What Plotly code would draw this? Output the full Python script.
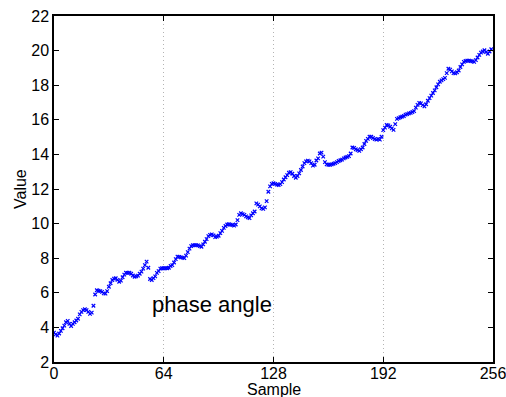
import plotly.graph_objects as go

samples = list(range(256))
values = [
    3.70, 3.60, 3.52, 3.65, 3.80, 3.95, 4.10, 4.30, 4.38, 4.20,
    4.08, 4.20, 4.30, 4.40, 4.50, 4.75, 4.90, 5.00, 5.05, 5.00,
    4.90, 4.78, 4.85, 5.25, 5.90, 6.15, 6.12, 6.10, 6.05, 5.97,
    5.95, 6.10, 6.35, 6.55, 6.74, 6.82, 6.84, 6.75, 6.64, 6.70,
    6.90, 7.05, 7.16, 7.15, 7.16, 7.10, 7.00, 6.93, 6.95, 6.99,
    7.10, 7.22, 7.40, 7.60, 7.80, 7.45, 6.80, 6.74, 6.85, 6.95,
    7.15, 7.25, 7.40, 7.42, 7.42, 7.42, 7.42, 7.45, 7.55, 7.60,
    7.75, 7.95, 8.09, 8.08, 8.05, 8.03, 8.00, 8.15, 8.35, 8.55,
    8.70, 8.75, 8.76, 8.76, 8.74, 8.70, 8.66, 8.80, 8.95, 9.10,
    9.28, 9.35, 9.38, 9.32, 9.22, 9.25, 9.30, 9.45, 9.58, 9.75,
    9.86, 9.95, 9.96, 9.94, 9.92, 9.88, 9.95, 10.20, 10.50, 10.60,
    10.55, 10.50, 10.42, 10.36, 10.32, 10.48, 10.60, 10.70, 11.17, 11.10,
    11.00, 10.88, 10.85, 10.94, 11.30, 11.84, 12.15, 12.30, 12.33, 12.30,
    12.25, 12.23, 12.28, 12.40, 12.55, 12.68, 12.80, 12.94, 12.98, 12.88,
    12.75, 12.65, 12.75, 12.90, 13.10, 13.30, 13.50, 13.60, 13.64, 13.60,
    13.50, 13.35, 13.40, 13.65, 13.77, 14.05, 14.10, 13.87, 13.55, 13.42,
    13.40, 13.39, 13.42, 13.46, 13.50, 13.55, 13.62, 13.66, 13.70, 13.77,
    13.82, 13.86, 13.90, 14.05, 14.40, 14.38, 14.30, 14.25, 14.20, 14.30,
    14.40, 14.60, 14.78, 14.90, 15.02, 15.02, 14.95, 14.88, 14.85, 14.90,
    14.85, 15.02, 15.40, 15.55, 15.70, 15.68, 15.60, 15.50, 15.42, 15.75,
    16.05, 16.10, 16.15, 16.18, 16.22, 16.30, 16.33, 16.37, 16.40, 16.45,
    16.50, 16.70, 16.86, 16.98, 16.95, 16.85, 16.78, 16.90, 17.10, 17.25,
    17.40, 17.55, 17.70, 17.88, 18.05, 18.20, 18.28, 18.35, 18.42, 18.70,
    18.95, 18.90, 18.80, 18.70, 18.68, 18.75, 18.85, 19.05, 19.20, 19.35,
    19.40, 19.42, 19.42, 19.40, 19.38, 19.35, 19.45, 19.60, 19.75, 19.88,
    19.95, 20.02, 19.92, 19.82, 19.95, 20.08,
]
x_ticks = [0, 64, 128, 192, 256]
y_ticks = [2, 4, 6, 8, 10, 12, 14, 16, 18, 20, 22]
label_text = "phase angle"
label_pos = (56, 5.3)
x_title = "Sample"
y_title = "Value"

FONT = "Liberation Sans, Arial, Helvetica, sans-serif"

fig = go.Figure()
fig.add_trace(go.Scatter(
    x=samples, y=values, mode="markers",
    marker=dict(symbol="x-thin", size=3.5, color="#0000ff",
                line=dict(color="#0000ff", width=1.2)),
    showlegend=False,
))

fig.add_annotation(x=label_pos[0], y=label_pos[1], text=label_text,
                   showarrow=False, xanchor="left", yanchor="middle",
                   font=dict(family=FONT, size=22, color="black"))

# axis titles
fig.add_annotation(x=0.5, y=0, xref="paper", yref="paper", yshift=-17,
                   text=x_title, showarrow=False, xanchor="center", yanchor="top",
                   font=dict(family=FONT, size=16, color="black"))
fig.add_annotation(x=0, y=0.5, xref="paper", yref="paper", xshift=-34,
                   text=y_title, showarrow=False, textangle=-90,
                   xanchor="center", yanchor="middle",
                   font=dict(family=FONT, size=16, color="black"))

axis_common = dict(
    showline=True, linecolor="black", linewidth=1.5, mirror="allticks",
    ticks="inside", ticklen=5, tickwidth=1, tickcolor="black",
    zeroline=False, automargin=False, ticklabeloverflow="allow",
    tickfont=dict(family=FONT, size=16, color="black"),
)

fig.update_xaxes(
    range=[0, 256], tickvals=x_ticks, ticktext=[str(t) for t in x_ticks],
    showgrid=True, gridcolor="#b4b4b4", griddash="1px,3px", gridwidth=1,
    ticklabelstandoff=-4,
    **axis_common,
)
fig.update_yaxes(
    range=[2, 22], tickvals=y_ticks, ticktext=[str(t) for t in y_ticks],
    showgrid=False,
    **axis_common,
)

fig.update_layout(
    width=506, height=397,
    margin=dict(l=54, r=13, t=16, b=35),
    paper_bgcolor="white", plot_bgcolor="white",
)

fig.write_html("out.html")
